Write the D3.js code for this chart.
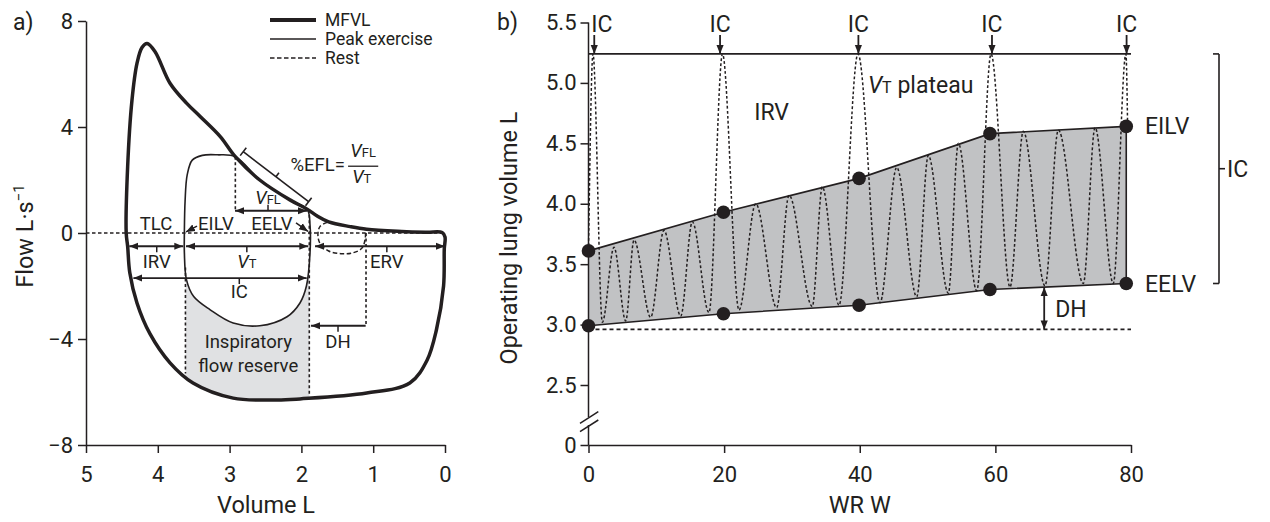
<!DOCTYPE html>
<html>
<head>
<meta charset="utf-8">
<script src="https://cdn.jsdelivr.net/npm/d3@7"></script>
<style>
  body { margin: 0; background: #fff; }
  svg text { font-family: Roboto, "DejaVu Sans", sans-serif; fill: #231f20; }
</style>
</head>
<body>
<script>
const ink = "#231f20";

// ---------- panel a: flow-volume loops ----------
const volTicks  = [5, 4, 3, 2, 1, 0];
const flowTicks = [-8, -4, 0, 4, 8];
const legendNames = ["MFVL", "Peak exercise", "Rest"];

// maximal flow-volume loop (volume L, flow L/s), expiration then inspiration
const mfvlVol  = [4.44, 4.42, 4.36, 4.29, 4.22, 4.15, 4.04, 3.83, 3.60, 3.41, 3.13, 2.92, 2.58, 2.16, 1.92, 1.78, 1.62, 1.32, 1.09, 0.60, 0.25, 0.04,
                  0.00, 0.01, 0.02, 0.12, 0.25, 0.49, 1.09, 2.02, 2.34, 2.95, 3.51, 3.83, 4.11, 4.29, 4.39, 4.42];
const mfvlFlow = [0.00, 2.50, 5.00, 6.40, 7.00, 7.15, 6.85, 5.65, 4.90, 4.40, 3.64, 2.88, 2.00, 1.25, 0.90, 0.64, 0.42, 0.24, 0.14, 0.06, 0.03, 0.02,
                  -0.15, -0.60, -2.00, -3.66, -4.80, -5.66, -6.04, -6.26, -6.30, -6.23, -5.66, -4.90, -3.80, -2.64, -1.50, -0.50];

// peak exercise tidal loop
const peakVol  = [3.63, 3.62, 3.59, 3.52, 3.38, 3.17, 2.92, 2.58, 2.16, 1.92, 1.88, 1.88, 1.93, 2.02, 2.20, 2.58, 2.95, 3.27, 3.50, 3.60, 3.63];
const peakFlow = [0.00, 1.20, 2.20, 2.75, 2.93, 2.95, 2.88, 2.00, 1.25, 0.90, 0.30, -0.75, -2.00, -2.64, -3.16, -3.50, -3.40, -2.90, -2.40, -1.77, -0.75];

// resting tidal loop
const restVol  = [1.64, 1.74, 1.77, 1.74, 1.62, 1.45, 1.30, 1.16, 1.11, 1.11];
const restFlow = [0.40, 0.25, -0.05, -0.40, -0.68, -0.78, -0.76, -0.58, -0.20, 0.13];

// ---------- panel b: operating lung volumes ----------
const wrTicks   = [0, 20, 40, 60, 80];
const olvTicks  = [0, 2.5, 3.0, 3.5, 4.0, 4.5, 5.0, 5.5];
const stageWR   = [0, 19.9, 39.9, 59.2, 79.3];
const eilv      = [3.61, 3.93, 4.21, 4.58, 4.64];
const eelv      = [2.99, 3.09, 3.16, 3.29, 3.34];
const icArrowWR = [0.85, 19.4, 39.8, 59.5, 79.35];
const tlcLevel  = 5.24;
const restEELV  = 2.96;
const breathWR  = [0, 0.66, 2.04, 3.76, 5.49, 6.71, 9.17, 11.13, 13.60, 15.31, 17.77, 19.76, 22.19, 24.66, 27.75, 29.57, 33.00, 34.48, 36.94,
                   39.74, 42.98, 45.45, 48.40, 50.11, 53.06, 54.54, 57.25, 59.36, 62.16, 64.12, 67.32, 69.28, 72.97, 74.70, 77.39, 79.25, 79.5];
const breathVol = [3.61, 5.24, 3.02, 3.64, 3.03, 3.70, 3.06, 3.78, 3.07, 3.85, 3.10, 5.24, 3.12, 4.00, 3.14, 4.07, 3.15, 4.14, 3.16,
                   5.24, 3.18, 4.30, 3.23, 4.40, 3.26, 4.50, 3.28, 5.24, 3.31, 4.60, 3.32, 4.61, 3.34, 4.63, 3.34, 5.24, 4.64];

const svg = d3.select("body").append("svg")
    .attr("width", 1270).attr("height", 522).style("display", "block");
svg.append("rect").attr("width", 1270).attr("height", 522).attr("fill", "#fff");

const defs = svg.append("defs");
defs.append("marker")
    .attr("id", "head").attr("viewBox", "0 0 10 10")
    .attr("refX", 10).attr("refY", 5)
    .attr("markerWidth", 9).attr("markerHeight", 9)
    .attr("markerUnits", "userSpaceOnUse").attr("orient", "auto-start-reverse")
  .append("path").attr("d", "M0,1L10,5L0,9z").attr("fill", ink);

function arrow(g, p1, p2, both, w) {
  return g.append("line")
    .attr("x1", p1[0]).attr("y1", p1[1]).attr("x2", p2[0]).attr("y2", p2[1])
    .attr("stroke", ink).attr("stroke-width", w || 1.8)
    .attr("marker-end", "url(#head)")
    .attr("marker-start", both ? "url(#head)" : null);
}
function seg(g, p1, p2, w, dash) {
  return g.append("line")
    .attr("x1", p1[0]).attr("y1", p1[1]).attr("x2", p2[0]).attr("y2", p2[1])
    .attr("stroke", ink).attr("stroke-width", w || 1.5)
    .attr("stroke-dasharray", dash || null);
}
function label(g, p, str, size, anchor) {
  return g.append("text").attr("x", p[0]).attr("y", p[1])
    .attr("font-size", size).attr("text-anchor", anchor || "middle").text(str);
}
function vLabel(g, p, sub, size, anchor) {
  const t = g.append("text").attr("x", p[0]).attr("y", p[1])
    .attr("font-size", size).attr("text-anchor", anchor || "middle");
  t.append("tspan").attr("font-style", "italic").text("V");
  t.append("tspan").attr("font-size", size * 0.7).text(sub);
  return t;
}
function styleAxis(g, size) {
  g.attr("font-size", size).attr("font-family", null).attr("color", ink);
  g.selectAll("line, path").attr("stroke-width", 1.5);
}

// ================= panel a =================
const xA = d3.scaleLinear().domain([5, 0]).range([86, 445]);
const yA = d3.scaleLinear().domain([-8, 8]).range([445, 21]);
const pa = (v, f) => [xA(v), yA(f)];
const gA = svg.append("g");
const fa = 18.5;

const closedA = d3.line().x(d => xA(d[0])).y(d => yA(d[1])).curve(d3.curveCatmullRomClosed.alpha(0.5));
const openA = d3.line().x(d => xA(d[0])).y(d => yA(d[1])).curve(d3.curveCatmullRom.alpha(0.5));
const mfvl = d3.zip(mfvlVol, mfvlFlow);
const peak = d3.zip(peakVol, peakFlow);
const rest = d3.zip(restVol, restFlow);

// inspiratory flow reserve shading
defs.append("clipPath").attr("id", "ifr").append("rect")
    .attr("x", xA(3.615)).attr("width", xA(1.89) - xA(3.615))
    .attr("y", yA(0)).attr("height", yA(-8) - yA(0));
const shade = gA.append("g").attr("clip-path", "url(#ifr)");
shade.append("path").attr("d", closedA(mfvl)).attr("fill", "#e0e1e3");
shade.append("path").attr("d", closedA(peak)).attr("fill", "#fff");

// dotted guides
seg(gA, pa(5, 0), pa(0, 0), 1.6, "3.5,2.5");
seg(gA, pa(3.615, -1.3), pa(3.615, -5.3), 1.6, "3,2.5");
seg(gA, pa(1.89, 0.9), pa(1.89, -6.12), 1.6, "3,2.5");
seg(gA, pa(2.92, 2.88), pa(2.92, 0.84), 1.6, "3,2.5");
seg(gA, pa(1.10, 0), pa(1.10, -3.5), 1.6, "3,2.5");

// loops
gA.append("path").attr("d", openA(rest))
    .attr("fill", "none").attr("stroke", ink).attr("stroke-width", 1.5).attr("stroke-dasharray", "4.5,2.5");
gA.append("path").attr("d", closedA(peak))
    .attr("fill", "none").attr("stroke", ink).attr("stroke-width", 1.6);
gA.append("path").attr("d", closedA(mfvl))
    .attr("fill", "none").attr("stroke", ink).attr("stroke-width", 3.5).attr("stroke-linejoin", "round");

// axes
const axA = gA.append("g").attr("transform", "translate(0,445)")
    .call(d3.axisBottom(xA).tickValues(volTicks).tickSize(8).tickSizeOuter(0).tickPadding(13).tickFormat(d3.format("d")));
styleAxis(axA, 22);
const ayA = gA.append("g").attr("transform", "translate(86,0)")
    .call(d3.axisLeft(yA).tickValues(flowTicks).tickSize(8).tickSizeOuter(0).tickPadding(5)
      .tickFormat(d => d < 0 ? "\u2212" + Math.abs(d) : d));
styleAxis(ayA, 22);

label(gA, [266, 513], "Volume L", 23.5);
const fl = gA.append("text").attr("transform", "translate(33,236) rotate(-90)")
    .attr("font-size", 23.5).attr("text-anchor", "middle");
fl.append("tspan").text("Flow L\u00b7s");
fl.append("tspan").attr("font-size", 15).attr("dy", -9).text("\u22121");
label(gA, [13, 30], "a)", 23, "start");

// legend
const legY = [20, 39, 58];
const legW = [4, 1.6, 1.6];
const legDash = [null, null, "4.5,2.5"];
legendNames.forEach((n, i) => {
  seg(gA, [270, legY[i]], [316, legY[i]], legW[i], legDash[i]);
  label(gA, [325, legY[i] + 6], n, 17.5, "start");
});

// annotations
const tk = 6;
arrow(gA, pa(4.397, -0.5), pa(3.645, -0.5), true);
seg(gA, pa(4.015, -0.5), [xA(4.015), yA(-0.5) + tk], 1.5);
label(gA, pa(4.015, -1.32), "IRV", fa);

arrow(gA, pa(3.607, -0.5), pa(1.904, -0.5), true);
seg(gA, pa(2.76, -0.5), [xA(2.76), yA(-0.5) + tk], 1.5);
vLabel(gA, pa(2.76, -1.32), "T", fa);

arrow(gA, pa(1.81, -0.5), pa(0.0, -0.5), true);
seg(gA, pa(0.81, -0.5), [xA(0.81), yA(-0.5) + tk], 1.5);
label(gA, pa(0.81, -1.32), "ERV", fa);

arrow(gA, pa(4.34, -1.7), pa(1.926, -1.7), true);
seg(gA, pa(2.865, -1.7), [xA(2.865), yA(-1.7) + tk], 1.5);
label(gA, pa(2.865, -2.45), "IC", fa);

arrow(gA, pa(2.925, 0.84), pa(1.922, 0.84), true);
seg(gA, pa(2.465, 0.84), [xA(2.465), yA(0.84) - tk], 1.5);
vLabel(gA, pa(2.465, 1.09), "FL", fa);

arrow(gA, pa(1.105, -3.5), pa(1.866, -3.5), false);
seg(gA, pa(1.49, -3.5), [xA(1.49), yA(-3.5) + tk], 1.5);
label(gA, pa(1.49, -4.34), "DH", fa);

label(gA, pa(4.025, 0.11), "TLC", fa);
label(gA, pa(3.19, 0.11), "EILV", fa);
label(gA, pa(2.41, 0.11), "EELV", fa);
arrow(gA, pa(3.454, 0.26), pa(3.607, 0.04), false, 1.5);
arrow(gA, pa(2.075, 0.38), pa(1.908, 0.06), false, 1.5);

label(gA, pa(2.74, -4.34), "Inspiratory", fa);
label(gA, pa(2.74, -5.23), "flow reserve", fa);

// %EFL bracket
const b1 = pa(2.81, 3.07), b2 = pa(1.90, 1.18);
const len = Math.hypot(b2[0] - b1[0], b2[1] - b1[1]);
const u = [(b2[0] - b1[0]) / len, (b2[1] - b1[1]) / len];
const nrm = [u[1], -u[0]];
seg(gA, b1, b2, 1.6);
[b1, b2].forEach(p => seg(gA, [p[0] - nrm[0] * 5, p[1] - nrm[1] * 5], [p[0] + nrm[0] * 5, p[1] + nrm[1] * 5], 1.6));
const bm = [(b1[0] + b2[0]) / 2, (b1[1] + b2[1]) / 2];
seg(gA, bm, [bm[0] + nrm[0] * 5, bm[1] + nrm[1] * 5], 1.6);
label(gA, pa(1.393, 2.34), "%EFL=", fa, "end");
seg(gA, pa(1.35, 2.52), pa(0.93, 2.52), 1.3);
vLabel(gA, pa(1.14, 2.87), "FL", fa);
vLabel(gA, pa(1.16, 1.89), "T", fa);

// ================= panel b =================
const xB = d3.scaleLinear().domain([0, 80]).range([588.5, 1131]);
const yB = d3.scaleLinear().domain([0, 2.5, 5.5]).range([445, 385, 22.5]);
const pb = (w, v) => [xB(w), yB(v)];
const gB = svg.append("g");
const fb = 23;

const stages = d3.zip(stageWR, eilv, eelv);
gB.append("path")
    .attr("d", d3.area().x(d => xB(d[0])).y0(d => yB(d[2])).y1(d => yB(d[1]))(stages))
    .attr("fill", "#c1c2c4");

const lineB = d3.line().x(d => xB(d[0])).y(d => yB(d[1]));
const breathLine = d3.line().x(d => xB(d[0])).y(d => yB(d[1])).curve(d3.curveMonotoneX);
gB.append("path").attr("d", breathLine(d3.zip(breathWR, breathVol)))
    .attr("fill", "none").attr("stroke", ink).attr("stroke-width", 1.5).attr("stroke-dasharray", "2.8,2.2");

gB.append("path").attr("d", lineB(d3.zip(stageWR, eilv))).attr("fill", "none").attr("stroke", ink).attr("stroke-width", 1.6);
gB.append("path").attr("d", lineB(d3.zip(stageWR, eelv))).attr("fill", "none").attr("stroke", ink).attr("stroke-width", 1.6);
seg(gB, pb(stageWR[4], eilv[4]), pb(stageWR[4], eelv[4]), 1.6);

// TLC level and resting EELV
seg(gB, pb(0, tlcLevel), pb(80, tlcLevel), 1.6);
seg(gB, pb(0, restEELV), pb(80, restEELV), 1.8, "4,3");

// dots
gB.selectAll(".dot")
  .data(d3.zip(stageWR, eilv).concat(d3.zip(stageWR, eelv)))
  .enter().append("circle")
    .attr("cx", d => xB(d[0])).attr("cy", d => yB(d[1])).attr("r", 6.8).attr("fill", ink);

// IC arrows
icArrowWR.forEach((w, i) => {
  arrow(gB, [xB(w), 35], pb(w, tlcLevel), false, 1.8);
  label(gB, [i === 0 ? xB(w) - 3 : xB(w), 31.5], "IC", fb, i === 0 ? "start" : "middle");
});

// axes
const axB = gB.append("g").attr("transform", "translate(0,445)")
    .call(d3.axisBottom(xB).tickValues(wrTicks).tickSize(8).tickSizeOuter(0).tickPadding(13));
styleAxis(axB, 22);
const ayB = gB.append("g").attr("transform", "translate(" + xB(0) + ",0)")
    .call(d3.axisLeft(yB).tickValues(olvTicks).tickSize(8).tickSizeOuter(0).tickPadding(4)
      .tickFormat(d => d === 0 ? "0" : d3.format(".1f")(d)));
styleAxis(ayB, 22);
ayB.select(".domain").remove();
seg(gB, [xB(0), yB(5.5)], [xB(0), 417], 1.5);
seg(gB, [xB(0), 425], [xB(0), 445], 1.5);
seg(gB, [580, 423.3], [598.3, 411.7], 1.5);
seg(gB, [580, 431.7], [598.3, 420], 1.5);

label(gB, [xB(40), 513], "WR W", 23.5);
label(gB, [0, 0], "Operating lung volume L", 23.5).attr("transform", "translate(517,238) rotate(-90)");
label(gB, [497, 30], "b)", 23, "start");

// annotations
label(gB, pb(27, 4.69), "IRV", fb);
const pl = vLabel(gB, pb(41.2, 4.92), "T", fb, "start");
pl.append("tspan").attr("font-size", fb).text(" plateau");
label(gB, [xB(80) + 14, yB(eilv[4]) + 8], "EILV", fb, "start");
label(gB, [xB(80) + 14, yB(eelv[4]) + 8], "EELV", fb, "start");

arrow(gB, pb(67.2, 3.31), pb(67.2, restEELV), true, 1.8);
label(gB, [xB(67.2) + 11, yB(3.13) + 8], "DH", fb, "start");

// IC bracket
const bx = 1219;
seg(gB, [bx, yB(tlcLevel)], [bx, yB(eelv[4])], 1.6);
seg(gB, [bx - 6, yB(tlcLevel)], [bx, yB(tlcLevel)], 1.6);
seg(gB, [bx - 6, yB(eelv[4])], [bx, yB(eelv[4])], 1.6);
const bmid = (yB(tlcLevel) + yB(eelv[4])) / 2;
seg(gB, [bx, bmid], [bx + 6, bmid], 1.6);
label(gB, [bx + 8, bmid + 8], "IC", fb, "start");
</script>
</body>
</html>
